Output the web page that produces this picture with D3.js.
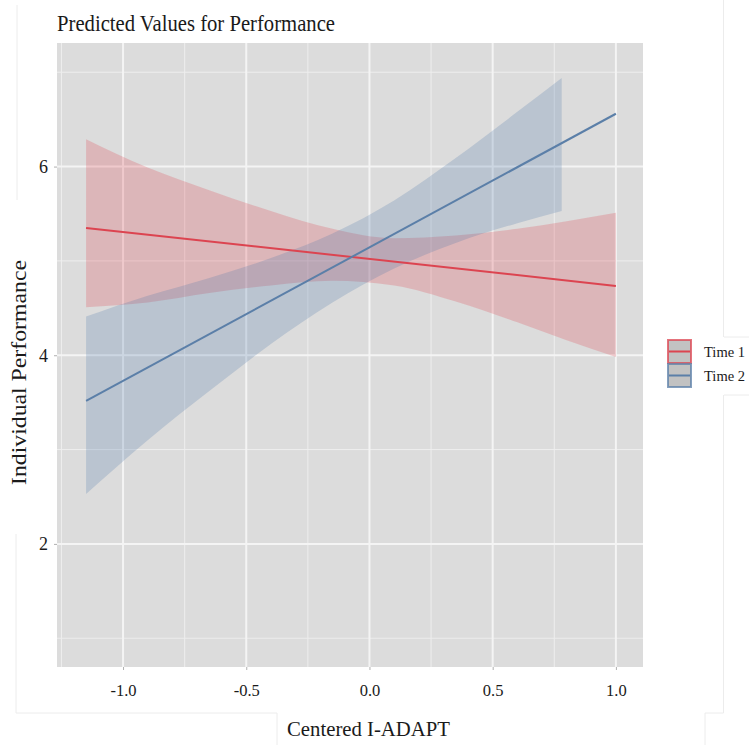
<!DOCTYPE html>
<html>
<head>
<meta charset="utf-8">
<script src="https://cdn.jsdelivr.net/npm/d3@7"></script>
<style>
  html, body { margin: 0; padding: 0; background: #ffffff; }
  svg { display: block; }
  text { font-family: "Liberation Serif", "DejaVu Serif", serif; fill: #1a1a1a; }
</style>
</head>
<body>
<svg id="chart" width="749" height="745"></svg>
<script>
// ---- data ----
const title = "Predicted Values for Performance";
const xTitle = "Centered I-ADAPT";
const yTitle = "Individual Performance";

const xTicks = [-1.0, -0.5, 0.0, 0.5, 1.0];
const xTickLabels = ["-1.0", "-0.5", "0.0", "0.5", "1.0"];
const xMinor = [-1.25, -0.75, -0.25, 0.25, 0.75];
const yTicks = [2, 4, 6];
const yTickLabels = ["2", "4", "6"];
const yMinor = [1, 3, 5, 7];

const seriesNames = ["Time 1", "Time 2"];

// Time 1 (red)
const t1LineX = [-1.15, 1.0];
const t1LineY = [5.35, 4.735];
const t1BandX = [-1.15, -0.9, -0.65, -0.4, -0.15, 0.1, 0.35, 0.6, 0.8, 1.0];
const t1Upper = [6.29, 5.99, 5.75, 5.53, 5.34, 5.24, 5.27, 5.34, 5.42, 5.51];
const t1Lower = [4.51, 4.56, 4.66, 4.74, 4.79, 4.74, 4.57, 4.35, 4.16, 3.98];

// Time 2 (blue)
const t2LineX = [-1.15, 1.0];
const t2LineY = [3.515, 6.56];
const t2BandX = [-1.15, -0.9, -0.65, -0.4, -0.15, 0.1, 0.35, 0.6, 0.78];
const t2Upper = [4.41, 4.63, 4.82, 5.03, 5.29, 5.64, 6.09, 6.58, 6.94];
const t2Lower = [2.53, 3.10, 3.62, 4.12, 4.56, 4.92, 5.19, 5.40, 5.53];

// ---- layout ----
const svg = d3.select("#chart");
const panel = { left: 57, right: 643, top: 43, bottom: 667 };

const x = d3.scaleLinear().domain([-1.268, 1.11]).range([panel.left, panel.right]);
const y = d3.scaleLinear().domain([0.695, 7.31]).range([panel.bottom, panel.top]);

// faint scan artifacts (light box edges)
const art = svg.append("g").attr("stroke", "#ececec").attr("stroke-width", 1).attr("fill", "none");
art.append("path").attr("d", "M17,5 V200");
art.append("path").attr("d", "M16,534 V713 H277 V745");
art.append("path").attr("d", "M723.5,0 V337 M723.5,395 V713 H705 V745");
art.append("path").attr("d", "M724,337 H749 M724,395 H749");

// panel background
svg.append("rect")
  .attr("x", panel.left).attr("y", panel.top)
  .attr("width", panel.right - panel.left).attr("height", panel.bottom - panel.top)
  .attr("fill", "#dcdcdc");

const grid = svg.append("g");
// minor grid
grid.selectAll("line.xm").data(xMinor).join("line")
  .attr("x1", d => x(d)).attr("x2", d => x(d))
  .attr("y1", panel.top).attr("y2", panel.bottom)
  .attr("stroke", "#eeeeee").attr("stroke-width", 1);
grid.selectAll("line.ym").data(yMinor).join("line")
  .attr("y1", d => y(d)).attr("y2", d => y(d))
  .attr("x1", panel.left).attr("x2", panel.right)
  .attr("stroke", "#eeeeee").attr("stroke-width", 1);
// major grid
grid.selectAll("line.xM").data(xTicks).join("line")
  .attr("x1", d => x(d)).attr("x2", d => x(d))
  .attr("y1", panel.top).attr("y2", panel.bottom)
  .attr("stroke", "#f4f4f4").attr("stroke-width", 2);
grid.selectAll("line.yM").data(yTicks).join("line")
  .attr("y1", d => y(d)).attr("y2", d => y(d))
  .attr("x1", panel.left).attr("x2", panel.right)
  .attr("stroke", "#f4f4f4").attr("stroke-width", 2);

// bands
const area = (bx, lo, hi) => d3.area()
  .x((d, i) => x(bx[i]))
  .y0((d, i) => y(lo[i]))
  .y1((d, i) => y(hi[i]))
  .curve(d3.curveMonotoneX)(bx);

const red = "#dc4450", blue = "#5b7fa8";
svg.append("path").attr("d", area(t1BandX, t1Lower, t1Upper))
  .attr("fill", "#e0333f").attr("fill-opacity", 0.22);
svg.append("path").attr("d", area(t2BandX, t2Lower, t2Upper))
  .attr("fill", "#4a76a8").attr("fill-opacity", 0.23);

const line = (lx, ly) => d3.line().x((d, i) => x(lx[i])).y((d, i) => y(ly[i]))(lx);
svg.append("path").attr("d", line(t1LineX, t1LineY))
  .attr("fill", "none").attr("stroke", red).attr("stroke-width", 2);
svg.append("path").attr("d", line(t2LineX, t2LineY))
  .attr("fill", "none").attr("stroke", blue).attr("stroke-width", 2);

// axes (ggplot style: small grey ticks, no domain line)
const xAxis = d3.axisBottom(x).tickValues(xTicks).tickFormat((d, i) => xTickLabels[i])
  .tickSize(3).tickPadding(14);
const gx = svg.append("g").attr("transform", `translate(0,${panel.bottom})`).call(xAxis);
gx.select(".domain").remove();
gx.selectAll(".tick line").attr("stroke", "#b0b0b0");
gx.selectAll(".tick text").attr("font-size", 16.5).attr("fill", "#111")
  .attr("font-family", "Liberation Serif, serif");

const yAxis = d3.axisLeft(y).tickValues(yTicks).tickFormat((d, i) => yTickLabels[i])
  .tickSize(3).tickPadding(6);
const gy = svg.append("g").attr("transform", `translate(${panel.left},0)`).call(yAxis);
gy.select(".domain").remove();
gy.selectAll(".tick line").attr("stroke", "#b0b0b0");
gy.selectAll(".tick text").attr("font-size", 18).attr("fill", "#111")
  .attr("font-family", "Liberation Serif, serif");

// titles
svg.append("text").attr("x", 57).attr("y", 31)
  .attr("font-size", 23).attr("textLength", 278).attr("lengthAdjust", "spacingAndGlyphs")
  .text(title);
svg.append("text").attr("x", 287).attr("y", 736)
  .attr("font-size", 22).attr("textLength", 163).attr("lengthAdjust", "spacingAndGlyphs")
  .text(xTitle);
svg.append("text")
  .attr("transform", "translate(26,372.5) rotate(-90)")
  .attr("text-anchor", "middle")
  .attr("font-size", 22).attr("textLength", 225).attr("lengthAdjust", "spacingAndGlyphs")
  .text(yTitle);

// legend
const legColors = [red, blue];
const leg = svg.append("g").attr("transform", "translate(668,340)");
seriesNames.forEach((name, i) => {
  const g = leg.append("g").attr("transform", `translate(0,${i * 24})`);
  g.append("rect").attr("x", 0).attr("y", 0).attr("width", 23).attr("height", 23)
    .attr("fill", "#c2c2c2").attr("stroke", legColors[i]).attr("stroke-opacity", 0.75)
    .attr("stroke-width", 2);
  g.append("line").attr("x1", 1).attr("x2", 22).attr("y1", 11.5).attr("y2", 11.5)
    .attr("stroke", legColors[i]).attr("stroke-width", 2);
  g.append("text").attr("x", 36).attr("y", 17)
    .attr("font-size", 14.5)
    .text(name);
});
</script>
</body>
</html>
